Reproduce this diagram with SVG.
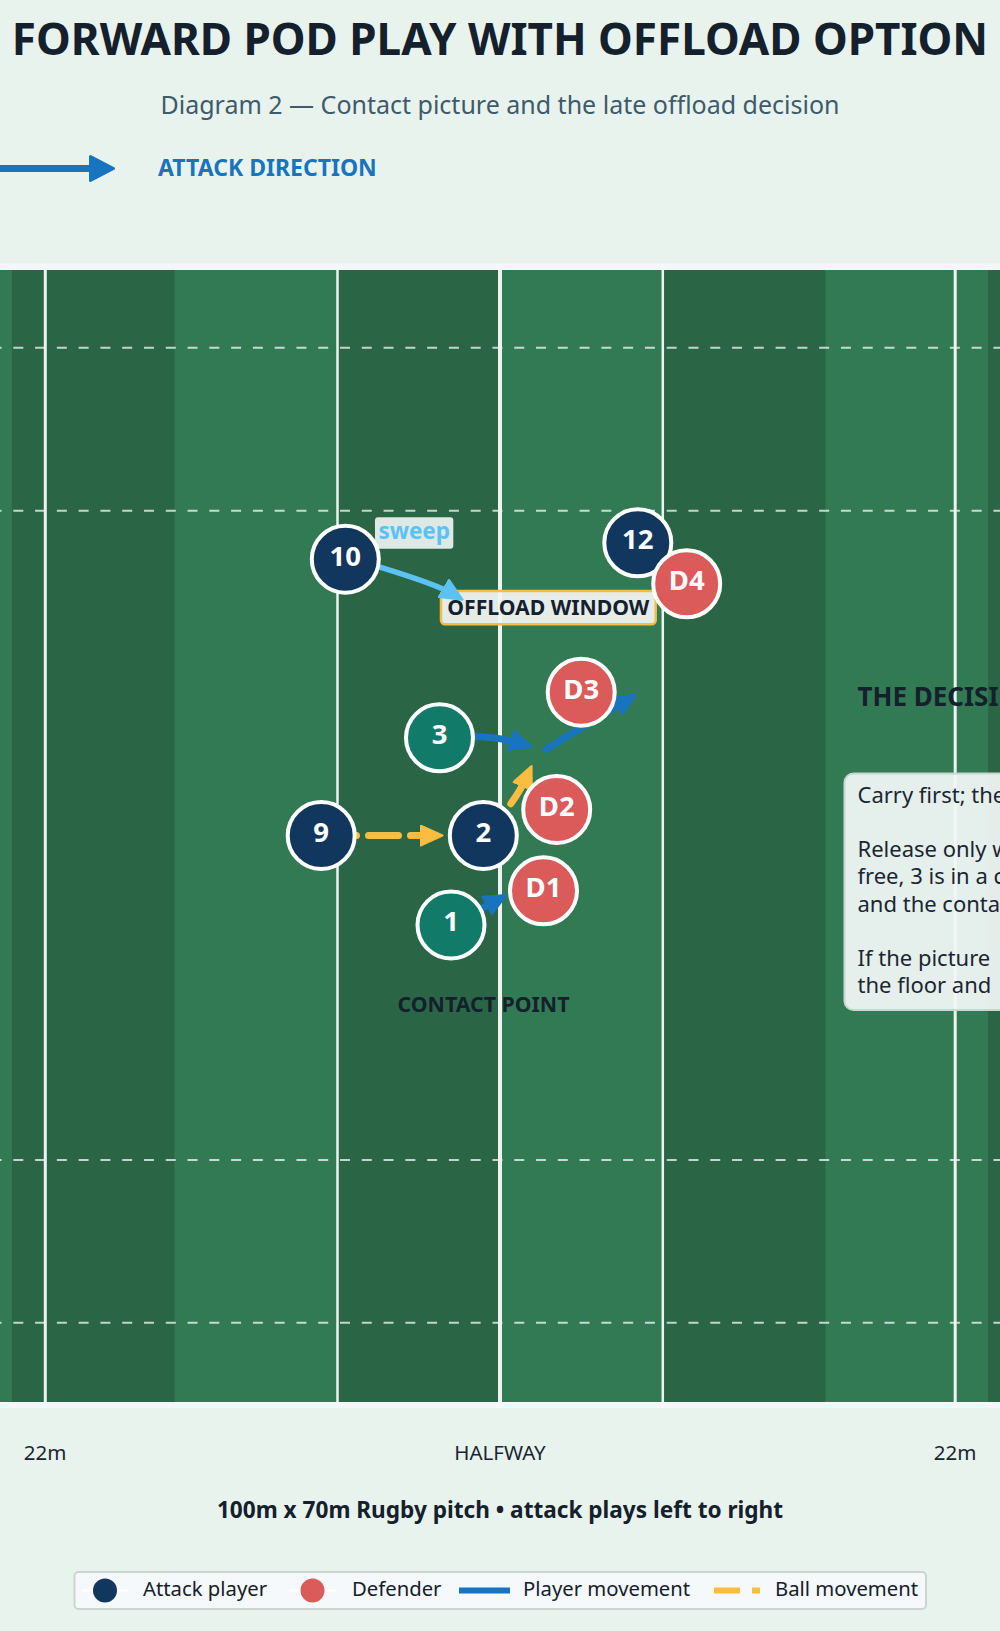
<svg xmlns="http://www.w3.org/2000/svg" width="1000" height="1631" viewBox="0 0 1000 1631">
<style>
text{font-family:"Noto Sans","Open Sans","DejaVu Sans",sans-serif}
.b{font-weight:700}
.dark{fill:#15202d}
.node circle{stroke:#ffffff;stroke-width:4}
.node text{fill:#ffffff;font-size:27.5px;font-weight:700;text-anchor:middle}
.atk circle{fill:#12375f}
.fwd circle{fill:#127a68}
.def circle{fill:#da5b59}
.vline{stroke:#eef3f0;fill:none}
.hdash{stroke:#ffffff;stroke-opacity:0.72;stroke-width:2;stroke-dasharray:10 11.78;stroke-dashoffset:8.48}
.move{fill:none;stroke:#1874bf;stroke-width:7;stroke-linecap:round}
.ball{fill:none;stroke:#fbbd40;stroke-width:7;stroke-linecap:round;stroke-dasharray:30 12}
.sweep{fill:none;stroke:#5bc2f2;stroke-width:5.5;stroke-linecap:round}
.leg{font-size:20.3px;fill:#15202d}
.mark{font-size:20.5px;fill:#1a2633;text-anchor:middle}
.panel{font-size:22px;fill:#1a2633}
</style>
<defs>
<marker id="ahBlue" markerUnits="userSpaceOnUse" viewBox="0 0 24 22" refX="12" refY="11" markerWidth="24" markerHeight="22" orient="auto">
<path d="M1,1 L23,11 L1,21 z" fill="#1874bf" stroke="#1874bf" stroke-width="2" stroke-linejoin="round"/>
</marker>
<marker id="ahBig" markerUnits="userSpaceOnUse" viewBox="0 0 26 27" refX="10" refY="13.5" markerWidth="26" markerHeight="27" orient="auto">
<path d="M1.5,1.5 L24.5,13.5 L1.5,25.5 z" fill="#1874bf" stroke="#1874bf" stroke-width="3" stroke-linejoin="round"/>
</marker>
<marker id="ahYellow" markerUnits="userSpaceOnUse" viewBox="0 0 24 22" refX="12" refY="11" markerWidth="24" markerHeight="22" orient="auto">
<path d="M1,1 L23,11 L1,21 z" fill="#fbbd40" stroke="#fbbd40" stroke-width="2" stroke-linejoin="round"/>
</marker>
<marker id="ahSky" markerUnits="userSpaceOnUse" viewBox="0 0 24 22" refX="12" refY="11" markerWidth="24" markerHeight="22" orient="auto">
<path d="M1,1 L23,11 L1,21 z" fill="#5bc2f2" stroke="#5bc2f2" stroke-width="2" stroke-linejoin="round"/>
</marker>
</defs>

<rect x="0" y="0" width="1000" height="1631" fill="#e8f3ee"/>

<g id="header">
<text x="500" y="55" class="b dark" font-size="44" text-anchor="middle">FORWARD POD PLAY WITH OFFLOAD OPTION</text>
<text x="500" y="114" font-size="25" fill="#3f5a6b" text-anchor="middle">Diagram 2 — Contact picture and the late offload decision</text>
<path d="M0,168.5 L99,168.5" stroke="#1874bf" stroke-width="7" fill="none" marker-end="url(#ahBig)"/>
<text x="158" y="176" class="b" font-size="23" fill="#1a74bd">ATTACK DIRECTION</text>
</g>

<g id="pitch">
<rect x="0" y="263.5" width="1000" height="1144.5" fill="#f3f7fa"/>
<rect x="0" y="270" width="1000" height="1132" fill="#2a6646"/>
<rect x="0" y="270" width="11.9" height="1132" fill="#327a53"/>
<rect x="174.6" y="270" width="162.7" height="1132" fill="#327a53"/>
<rect x="500" y="270" width="162.7" height="1132" fill="#327a53"/>
<rect x="825.4" y="270" width="162.7" height="1132" fill="#327a53"/>
<line class="hdash" x1="0" y1="347.7" x2="1000" y2="347.7"/>
<line class="hdash" x1="0" y1="510.7" x2="1000" y2="510.7"/>
<line class="hdash" x1="0" y1="1160" x2="1000" y2="1160"/>
<line class="hdash" x1="0" y1="1322.8" x2="1000" y2="1322.8"/>
<line class="vline" x1="45.3" y1="270" x2="45.3" y2="1402" stroke-width="3"/>
<line class="vline" x1="337.5" y1="270" x2="337.5" y2="1402" stroke-width="2.5"/>
<line class="vline" x1="500" y1="270" x2="500" y2="1402" stroke-width="4"/>
<line class="vline" x1="662.8" y1="270" x2="662.8" y2="1402" stroke-width="2.5"/>
<line class="vline" x1="955.2" y1="270" x2="955.2" y2="1402" stroke-width="3"/>
</g>

<g id="decision-panel">
<text x="857.5" y="705.7" class="b dark" font-size="26">THE DECISI</text>
<rect x="844.5" y="773.5" width="200" height="236.5" rx="9" fill="#f3f7f7" fill-opacity="0.93" stroke="#c9d6d0" stroke-width="2"/>
<text class="panel" x="857.5" y="803.3">Carry first; the</text>
<text class="panel" x="857.5" y="857.3">Release only w</text>
<text class="panel" x="857.5" y="884.3">free, 3 is in a c</text>
<text class="panel" x="857.5" y="911.7">and the conta</text>
<text class="panel" x="857.5" y="966">If the picture</text>
<text class="panel" x="857.5" y="993.3">the floor and</text>
</g>

<g id="label-offload-window">
<rect x="441" y="591" width="214.7" height="33.3" rx="4" fill="#f0f4f4" fill-opacity="0.94" stroke="#f6bd42" stroke-width="2.5"/>
<text x="548.3" y="614.5" class="b dark" font-size="21.2" text-anchor="middle">OFFLOAD WINDOW</text>
</g>
<g id="label-sweep">
<rect x="375" y="517.3" width="78.3" height="31.4" rx="3" fill="#eef3f3" fill-opacity="0.92"/>
<text x="414.2" y="539.3" class="b" font-size="22.5" fill="#5bc2f2" text-anchor="middle">sweep</text>
</g>
<g id="label-contact">
<text x="483.5" y="1011.7" class="b dark" font-size="21.3" text-anchor="middle">CONTACT POINT</text>
</g>

<g id="connectors">
<path class="sweep" d="M380.7,567.3 Q437.6,584.7 453.3,594.1" marker-end="url(#ahSky)"/>
<path class="move" d="M474,736.5 Q500,737 521.5,743.7" marker-end="url(#ahBlue)"/>
<path class="move" d="M546,749.3 L626.7,700.2" marker-end="url(#ahBlue)"/>
<path class="move" d="M451,925 L496.7,900.3" marker-end="url(#ahBlue)"/>
<path class="ball" d="M326.5,835.5 L431.5,835.5" marker-end="url(#ahYellow)"/>
<path class="ball" d="M483.3,835.5 Q514.5,804.3 527.1,776" stroke-dasharray="39 17 100" marker-end="url(#ahYellow)"/>
</g>

<g id="node-10" class="node atk"><circle cx="345.3" cy="559.2" r="33.5"/><text x="345.3" y="565.7">10</text></g>
<g id="node-12" class="node atk"><circle cx="637.8" cy="542.8" r="33.5"/><text x="637.8" y="549.2">12</text></g>
<g id="node-D4" class="node def"><circle cx="686.7" cy="583.8" r="33.5"/><text x="686.7" y="590.2">D4</text></g>
<g id="node-D3" class="node def"><circle cx="581.2" cy="692.2" r="33.5"/><text x="581.2" y="698.6">D3</text></g>
<g id="node-3" class="node fwd"><circle cx="439.5" cy="737.8" r="33.5"/><text x="439.5" y="744.2">3</text></g>
<g id="node-9" class="node atk"><circle cx="321.2" cy="835.5" r="33.5"/><text x="321.2" y="841.9">9</text></g>
<g id="node-2" class="node atk"><circle cx="483.3" cy="835.5" r="33.5"/><text x="483.3" y="841.9">2</text></g>
<g id="node-D2" class="node def"><circle cx="556.7" cy="809.5" r="33.5"/><text x="556.7" y="815.9">D2</text></g>
<g id="node-D1" class="node def"><circle cx="543.5" cy="890.8" r="33.5"/><text x="543.5" y="897.2">D1</text></g>
<g id="node-1" class="node fwd"><circle cx="451" cy="925" r="33.5"/><text x="451" y="931.4">1</text></g>

<g id="footer">
<text class="mark" x="45" y="1460">22m</text>
<text class="mark" x="500" y="1460">HALFWAY</text>
<text class="mark" x="955" y="1460">22m</text>
<text x="500" y="1518" class="b dark" font-size="22.6" text-anchor="middle">100m x 70m Rugby pitch • attack plays left to right</text>
</g>

<g id="legend">
<rect x="74.5" y="1572" width="851.5" height="37" rx="4" fill="#f5f9fb" stroke="#cdd5d2" stroke-width="2"/>
<line x1="82" y1="1590.5" x2="128" y2="1590.5" stroke="#ffffff" stroke-width="2"/>
<circle cx="105" cy="1590.5" r="12" fill="#12375f"/>
<text class="leg" x="143" y="1595.5">Attack player</text>
<line x1="289" y1="1590.5" x2="336" y2="1590.5" stroke="#ffffff" stroke-width="2"/>
<circle cx="312.5" cy="1590.5" r="12" fill="#da5b59"/>
<text class="leg" x="352" y="1595.5">Defender</text>
<line x1="459" y1="1590.5" x2="510" y2="1590.5" stroke="#1874bf" stroke-width="6"/>
<text class="leg" x="523" y="1595.5">Player movement</text>
<line x1="714" y1="1590.5" x2="760" y2="1590.5" stroke="#fbbd40" stroke-width="6" stroke-dasharray="26 12"/>
<text class="leg" x="775" y="1595.5">Ball movement</text>
</g>
</svg>
